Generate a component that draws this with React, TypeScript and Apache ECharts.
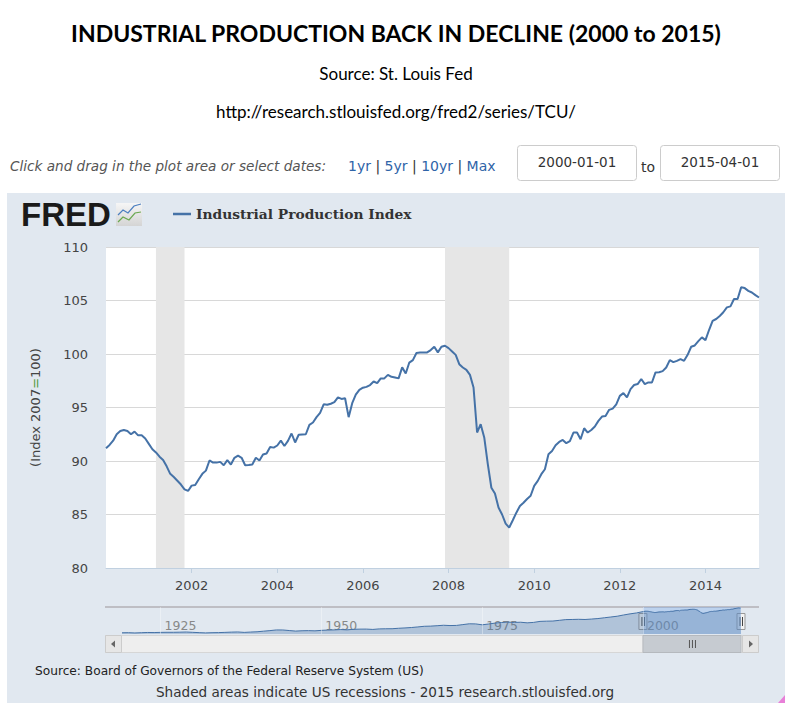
import React, { useEffect, useRef } from "react";
import * as echarts from "echarts";

// Industrial Production Index, monthly, 2000-01 .. 2015-04 (Index 2007=100)
const startYear = 2000;
const ipValues = [
  // 2000
  91.2, 91.5, 91.9, 92.5, 92.8, 92.9, 92.8, 92.5, 92.75, 92.4, 92.4, 92.1,
  // 2001
  91.6, 91.1, 90.8, 90.4, 90.1, 89.5, 88.8, 88.5, 88.15, 87.8, 87.35, 87.2,
  // 2002
  87.7, 87.76, 88.3, 88.8, 89.1, 90.05, 89.85, 89.85, 89.92, 89.6, 90.08, 89.67,
  // 2003
  90.3, 90.5, 90.3, 89.6, 89.62, 89.67, 90.3, 90.05, 90.6, 90.7, 91.3, 91.25,
  // 2004
  91.45, 91.9, 91.4, 91.88, 92.57, 91.73, 92.45, 92.48, 92.5, 93.38, 93.6, 94.1,
  // 2005
  94.5, 95.3, 95.25, 95.35, 95.5, 95.95, 95.8, 95.87, 94.1, 95.4, 96.2, 96.65,
  // 2006
  96.85, 96.93, 97.1, 97.43, 97.27, 97.72, 97.72, 98.05, 97.87, 97.8, 97.72, 98.75,
  // 2007
  98.18, 99.2, 99.43, 100.1, 100.15, 100.15, 100.15, 100.37, 100.68, 100.15, 100.68, 100.77,
  // 2008
  100.55, 100.24, 99.92, 99.05, 98.74, 98.52, 98.05, 96.87, 92.66, 93.44, 92.2, 89.7,
  // 2009
  87.5, 86.96, 85.65, 85.0, 84.15, 83.78, 84.46, 85.17, 85.8, 86.1, 86.45, 86.75,
  // 2010
  87.67, 88.14, 88.77, 89.23, 90.63, 90.94, 91.47, 91.78, 91.97, 91.66, 91.85, 92.66,
  // 2011
  92.66, 92.03, 93.06, 92.66, 92.9, 93.22, 93.75, 94.15, 94.21, 94.78, 94.9, 95.3,
  // 2012
  96.09, 96.34, 95.94, 96.72, 97.1, 97.19, 97.66, 97.19, 97.34, 97.34, 98.28, 98.3,
  // 2013
  98.4, 98.74, 99.43, 99.24, 99.36, 99.52, 99.36, 99.92, 100.68, 100.8, 101.2, 101.55,
  // 2014
  101.3, 102.24, 103.1, 103.27, 103.55, 103.9, 104.36, 104.45, 105.14, 105.14, 106.23, 106.16,
  // 2015
  105.9, 105.75, 105.5, 105.28,
];

// Recessions (fractional years): 2001-03..2001-11, 2007-12..2009-06
const recessions: [number, number][] = [
  [2001 + 2 / 12, 2001 + 10 / 12],
  [2007 + 11 / 12, 2009 + 5 / 12],
];

const yMin = 80;
const yMax = 110;
const yStep = 5;
const xMin = 2000;
const xMax = 2015 + 3 / 12;
const xStep = 2;

// Navigator: long history (annual, 1919..1999), then the monthly series
const navYears = [
  1919, 1920, 1921, 1922, 1923, 1924, 1925, 1926, 1927, 1928, 1929, 1930, 1931, 1932, 1933, 1934,
  1935, 1936, 1937, 1938, 1939, 1940, 1941, 1942, 1943, 1944, 1945, 1946, 1947, 1948, 1949, 1950,
  1951, 1952, 1953, 1954, 1955, 1956, 1957, 1958, 1959, 1960, 1961, 1962, 1963, 1964, 1965, 1966,
  1967, 1968, 1969, 1970, 1971, 1972, 1973, 1974, 1975, 1976, 1977, 1978, 1979, 1980, 1981, 1982,
  1983, 1984, 1985, 1986, 1987, 1988, 1989, 1990, 1991, 1992, 1993, 1994, 1995, 1996, 1997, 1998,
  1999,
];
const navValues = [
  5.0, 5.4, 4.3, 5.3, 6.2, 5.9, 6.6, 7.0, 7.0, 7.4, 8.1, 6.8, 5.6, 4.5, 5.3, 5.7,
  6.6, 7.7, 8.3, 6.5, 7.9, 9.1, 11.5, 13.8, 16.5, 16.4, 14.1, 11.9, 13.2, 13.7, 12.9, 14.8,
  16.1, 16.7, 18.1, 16.9, 19.1, 19.8, 20.0, 18.6, 20.8, 21.3, 21.5, 23.3, 24.7, 26.4, 28.8, 31.4,
  32.1, 33.8, 35.6, 34.4, 34.9, 38.3, 41.6, 41.1, 37.4, 40.7, 44.4, 46.8, 48.3, 47.2, 47.9, 45.5,
  47.2, 51.4, 52.3, 52.8, 55.7, 58.6, 59.2, 59.9, 59.1, 60.9, 62.9, 66.1, 69.2, 72.4, 77.5, 82.0,
  85.8,
];
const navMin = 1919;
const navMax = 2015 + 3 / 12;
const navLabelYears = [1925, 1950, 1975, 2000];
const selStart = 2000;
const selEnd = 2015 + 3 / 12;

const BLUE = "#4572a7";
const FONT = "DejaVu Sans";

function buildGraphics(x0: number, x1: number) {
  const g: any[] = [];
  g.push({ type: "rect", z: -5, shape: { x: 7, y: 193, width: 778, height: 510 }, style: { fill: "#e1e8f0" } });
  // titles
  g.push({ type: "text", x: 396, y: 33, style: { text: "INDUSTRIAL PRODUCTION BACK IN DECLINE (2000 to 2015)", font: "bold 23px Lato", fill: "#000", textAlign: "center", textVerticalAlign: "middle" } });
  g.push({ type: "text", x: 396, y: 73, style: { text: "Source: St. Louis Fed", font: "17px Lato", fill: "#000", textAlign: "center", textVerticalAlign: "middle" } });
  g.push({ type: "text", x: 396, y: 111, style: { text: "http://research.stlouisfed.org/fred2/series/TCU/", font: "17px Lato", fill: "#000", textAlign: "center", textVerticalAlign: "middle" } });
  // controls row
  g.push({ type: "text", x: 10, y: 166, style: { text: "Click and drag in the plot area or select dates:", font: "italic 13.6px 'DejaVu Sans'", fill: "#555", textAlign: "left", textVerticalAlign: "middle" } });
  g.push({
    type: "text", x: 348, y: 166,
    style: {
      text: "{a|1yr} {s||} {a|5yr} {s||} {a|10yr} {s||} {a|Max}",
      font: "14px 'DejaVu Sans'", textAlign: "left", textVerticalAlign: "middle",
      rich: { a: { fill: "#2f64a8", font: "14px 'DejaVu Sans'" }, s: { fill: "#333", font: "14px 'DejaVu Sans'" } },
    },
  });
  g.push({ type: "rect", shape: { x: 517.5, y: 145.5, width: 119, height: 35, r: 3 }, style: { fill: "#fff", stroke: "#cccccc", lineWidth: 1 } });
  g.push({ type: "rect", shape: { x: 660.5, y: 145.5, width: 119, height: 35, r: 3 }, style: { fill: "#fff", stroke: "#cccccc", lineWidth: 1 } });
  g.push({ type: "text", x: 577, y: 162, style: { text: "2000-01-01", font: "13.5px 'DejaVu Sans'", fill: "#333", textAlign: "center", textVerticalAlign: "middle" } });
  g.push({ type: "text", x: 720, y: 162, style: { text: "2015-04-01", font: "13.5px 'DejaVu Sans'", fill: "#333", textAlign: "center", textVerticalAlign: "middle" } });
  g.push({ type: "text", x: 648, y: 167, style: { text: "to", font: "14px 'DejaVu Sans'", fill: "#333", textAlign: "center", textVerticalAlign: "middle" } });
  // FRED logo
  g.push({ type: "text", x: 21, y: 214, style: { text: "FRED", font: "900 33px 'Liberation Sans'", fill: "#1a1a1a", textAlign: "left", textVerticalAlign: "middle" } });
  g.push({ type: "rect", shape: { x: 116, y: 203, width: 26, height: 23 }, style: { fill: new echarts.graphic.LinearGradient(0, 0, 0, 1, [{ offset: 0, color: "#f6f6f6" }, { offset: 1, color: "#d4d4d4" }]) } });
  g.push({ type: "polyline", shape: { points: [[118, 215], [123, 210], [128, 213], [134, 206], [141, 204]] }, style: { stroke: "#4b7fc0", lineWidth: 1.2, fill: null } });
  g.push({ type: "polyline", shape: { points: [[118, 222], [123, 217], [129, 220], [135, 213], [141, 212]] }, style: { stroke: "#6aa84f", lineWidth: 1.2, fill: null } });
  // navigator outline top
  g.push({ type: "line", shape: { x1: 105, y1: 607, x2: 759, y2: 607 }, style: { stroke: "#b2b1b6", lineWidth: 1.5 } });
  // scrollbar
  g.push({ type: "rect", shape: { x: 105.5, y: 635.5, width: 653, height: 17 }, style: { fill: "#eeeeee", stroke: "#d6d6d6", lineWidth: 1 } });
  g.push({ type: "rect", shape: { x: x0, y: 635.5, width: x1 - x0, height: 17 }, style: { fill: "#c6cbd1", stroke: "#b5b9be", lineWidth: 1 } });
  const mid = (x0 + x1) / 2;
  for (const dx of [-3, 0, 3]) {
    g.push({ type: "line", shape: { x1: mid + dx + 0.5, y1: 640, x2: mid + dx + 0.5, y2: 648 }, style: { stroke: "#555", lineWidth: 1 } });
  }
  g.push({ type: "rect", shape: { x: 105.5, y: 635.5, width: 16, height: 17 }, style: { fill: "#e6e6e6", stroke: "#cccccc", lineWidth: 1 } });
  g.push({ type: "rect", shape: { x: 742.5, y: 635.5, width: 16, height: 17 }, style: { fill: "#e6e6e6", stroke: "#cccccc", lineWidth: 1 } });
  g.push({ type: "polygon", shape: { points: [[115, 640.5], [115, 647.5], [111, 644]] }, style: { fill: "#666" } });
  g.push({ type: "polygon", shape: { points: [[749, 640.5], [749, 647.5], [753, 644]] }, style: { fill: "#666" } });
  // navigator handles
  for (const hx of [x0, x1]) {
    g.push({ type: "rect", shape: { x: hx - 4, y: 613.5, width: 8, height: 16 }, style: { fill: "#f2f2f2", stroke: "#999", lineWidth: 1 } });
    g.push({ type: "line", shape: { x1: hx - 1, y1: 617, x2: hx - 1, y2: 626 }, style: { stroke: "#444", lineWidth: 1 } });
    g.push({ type: "line", shape: { x1: hx + 1.5, y1: 617, x2: hx + 1.5, y2: 626 }, style: { stroke: "#444", lineWidth: 1 } });
  }
  // footer texts
  g.push({ type: "text", x: 35, y: 671, style: { text: "Source: Board of Governors of the Federal Reserve System (US)", font: "12.2px 'DejaVu Sans'", fill: "#222", textAlign: "left", textVerticalAlign: "middle" } });
  g.push({ type: "text", x: 385, y: 692, style: { text: "Shaded areas indicate US recessions - 2015 research.stlouisfed.org", font: "13.6px 'DejaVu Sans'", fill: "#333", textAlign: "center", textVerticalAlign: "middle" } });
  g.push({ type: "polygon", shape: { points: [[778, 703], [785, 695], [785, 703]] }, style: { fill: "#e87fd8" } });
  return g;
}

export default function App() {
  const ref = useRef<HTMLDivElement>(null);
  useEffect(() => {
    const chart = echarts.init(ref.current!, null, { renderer: "svg" });
    const mainData = ipValues.map((v, i) => [startYear + i / 12, v]);
    const navData = navYears.map((y, i) => [y, navValues[i]]).concat(mainData);
    const option: any = {
      animation: false,
      backgroundColor: "#ffffff",
      textStyle: { fontFamily: FONT },
      legend: {
        left: 168,
        top: 202,
        icon: "rect",
        itemWidth: 18,
        itemHeight: 2.5,
        data: ["Industrial Production Index"],
        textStyle: { fontFamily: "DejaVu Serif", fontWeight: "bold", fontSize: 13.8, color: "#333" },
      },
      grid: [
        { left: 106, top: 247, width: 653, height: 321, show: true, backgroundColor: "#ffffff", borderWidth: 0 },
        { left: 122, top: 607, width: 619, height: 27, show: false },
      ],
      xAxis: [
        {
          type: "value", gridIndex: 0, min: xMin, max: xMax, interval: xStep,
          axisLine: { lineStyle: { color: "#c0d0e0", width: 1 } },
          axisTick: { show: true, length: 5, lineStyle: { color: "#c0d0e0" } },
          axisLabel: { showMinLabel: false, showMaxLabel: false, color: "#444", fontSize: 13, margin: 11, formatter: (v: number) => String(v) },
          splitLine: { show: false },
        },
        {
          type: "value", gridIndex: 1, min: navMin, max: navMax,
          axisLine: { show: false },
          axisTick: { show: false },
          splitLine: { show: false },
          axisLabel: {
            inside: true, customValues: navLabelYears, color: "#888", fontSize: 12.5, margin: 2,
            align: "left", padding: [0, 0, 0, 4], formatter: (v: number) => String(v),
          },
        },
      ],
      yAxis: [
        {
          type: "value", gridIndex: 0, min: yMin, max: yMax, interval: yStep,
          axisLine: { show: false }, axisTick: { show: false },
          axisLabel: { color: "#444", fontSize: 13, margin: 18 },
          splitLine: { lineStyle: { color: "#d8d8d8", width: 1 } },
          name: "{a|(Index 2007}{g|=}{a|100)}",
          nameLocation: "middle",
          nameGap: 64,
          nameTextStyle: {
            rich: {
              a: { fontSize: 13, color: "#444", fontFamily: FONT },
              g: { fontSize: 13, color: "#4d9a3a", fontFamily: FONT },
            },
          },
        },
        { type: "value", gridIndex: 1, min: 0, max: 110, show: false },
      ],
      series: [
        {
          name: "Industrial Production Index",
          type: "line",
          xAxisIndex: 0, yAxisIndex: 0,
          data: mainData,
          showSymbol: false,
          lineStyle: { color: BLUE, width: 2 },
          itemStyle: { color: BLUE },
          z: 3,
          markArea: {
            silent: true,
            itemStyle: { color: "#e6e6e6" },
            data: recessions.map(([a, b]) => [{ xAxis: a }, { xAxis: b }]),
          },
        },
        {
          name: "nav",
          type: "line",
          xAxisIndex: 1, yAxisIndex: 1,
          data: navData,
          showSymbol: false,
          lineStyle: { color: BLUE, width: 1 },
          areaStyle: { color: "rgba(69,114,167,0.45)" },
          markLine: {
            silent: true, symbol: "none", label: { show: false },
            lineStyle: { color: "rgba(255,255,255,0.35)", type: "solid", width: 1 },
            data: navLabelYears.map((y) => ({ xAxis: y })),
          },
          markArea: {
            silent: true,
            itemStyle: { color: "rgba(120,170,235,0.35)" },
            data: [[{ xAxis: selStart }, { xAxis: selEnd }]],
          },
        },
      ],
    };
    chart.setOption(option);
    const x0 = chart.convertToPixel({ xAxisIndex: 1 }, selStart) as number;
    const x1 = chart.convertToPixel({ xAxisIndex: 1 }, selEnd) as number;
    chart.setOption({ graphic: buildGraphics(x0, x1) });
    return () => chart.dispose();
  }, []);
  return <div ref={ref} style={{ position: "absolute", left: 0, top: 0, width: 792, height: 718 }} />;
}
